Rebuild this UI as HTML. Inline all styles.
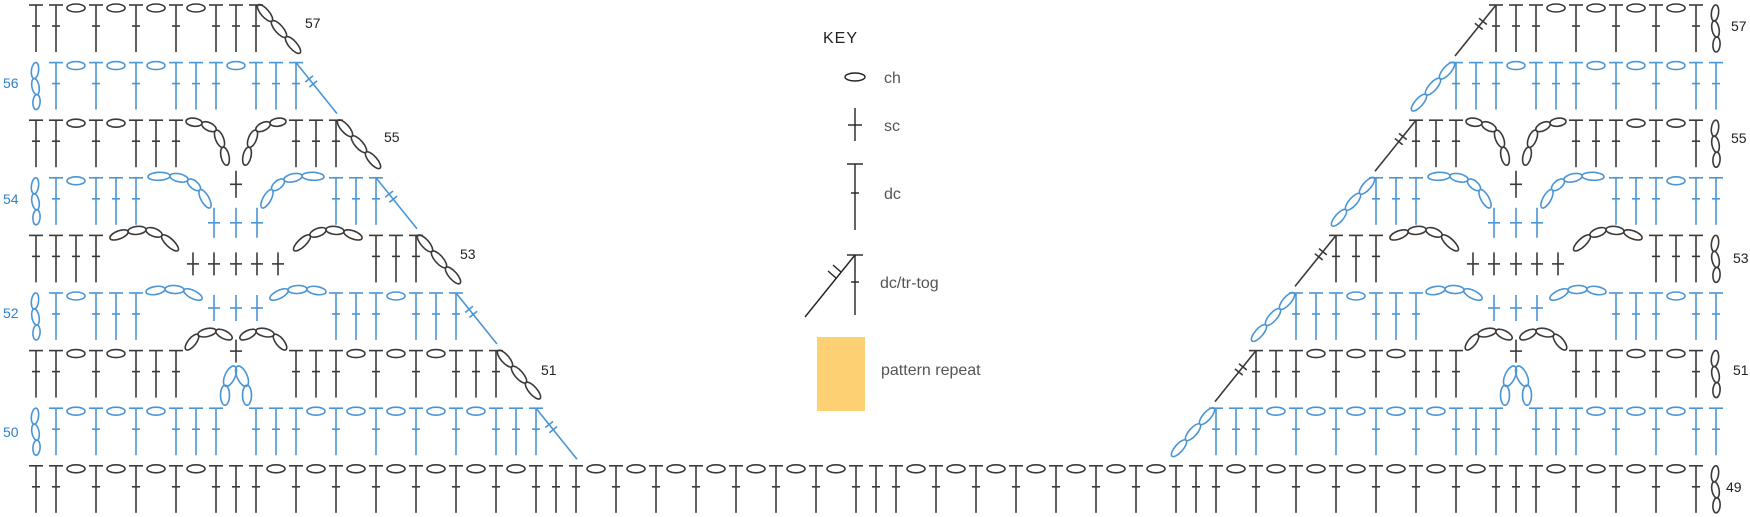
<!DOCTYPE html>
<html><head><meta charset="utf-8">
<style>
html,body{margin:0;padding:0;background:#fff;}
svg{display:block;}
text{font-family:"Liberation Sans",sans-serif;}
</style></head>
<body>
<svg id="s" xmlns="http://www.w3.org/2000/svg" width="1750" height="517" viewBox="0 0 1750 517">
<rect width="1750" height="517" fill="#fff"/>
<g id="g" fill="none" stroke-width="1.6"></g>
<!-- labels -->
<g font-size="14" fill="#222">
<text x="305" y="28">57</text>
<text x="384" y="142">55</text>
<text x="460" y="259">53</text>
<text x="541" y="375">51</text>
<text x="1731" y="31">57</text>
<text x="1731" y="143">55</text>
<text x="1733" y="263">53</text>
<text x="1733" y="375">51</text>
<text x="1726" y="492">49</text>
</g>
<g font-size="14" fill="#2f80c6">
<text x="3" y="88">56</text>
<text x="3" y="204">54</text>
<text x="3" y="318">52</text>
<text x="3" y="437">50</text>
</g>
<!-- key -->
<g fill="#222"><text x="823" y="43" font-size="16" letter-spacing="1">KEY</text></g>
<g font-size="16" fill="#555">
<text x="884" y="83">ch</text>
<text x="884" y="131">sc</text>
<text x="884" y="199">dc</text>
<text x="880" y="288">dc/tr-tog</text>
<text x="881" y="375">pattern repeat</text>
</g>
<g stroke="#222" stroke-width="1.4" fill="none">
<ellipse cx="855" cy="77" rx="10" ry="4"/>
<line x1="855" y1="108" x2="855" y2="141"/><line x1="848" y1="125" x2="862" y2="125"/>
<line x1="855" y1="164" x2="855" y2="230"/><line x1="847" y1="164" x2="863" y2="164"/><line x1="851" y1="193" x2="859" y2="193"/>
<line x1="855" y1="255" x2="855" y2="315"/><line x1="847" y1="255" x2="863" y2="255"/><line x1="851" y1="282" x2="859" y2="282"/>
<line x1="855" y1="255" x2="805" y2="317"/>
<line x1="828" y1="271" x2="836" y2="278"/><line x1="833" y1="265" x2="841" y2="272"/>
</g>
<rect x="817" y="337" width="48" height="74" fill="#fdd073"/>
</svg>
<script>
(function(){
var g=document.getElementById('g');var NS='http://www.w3.org/2000/svg';
var BK='#3a3a3a',BL='#4a95d6';
function el(n,a){var e=document.createElementNS(NS,n);for(var k in a)e.setAttribute(k,a[k]);g.appendChild(e);return e;}
function ln(x1,y1,x2,y2,c){el('line',{x1:x1,y1:y1,x2:x2,y2:y2,stroke:c});}
function X(i){return 36+20*i;}
function T(r){return 5+(57-r)*57.6;}
function dc(x,t,c){ln(x,t,x,t+47,c);ln(x-7,t,x+7,t,c);ln(x-4,t+21,x+4,t+21,c);}
function ch(x,t,c){el('ellipse',{cx:x,cy:t+3,rx:9,ry:4,stroke:c});}
function sc(x,y1,y2,c){ln(x,y1,x,y2,c);var m=(y1+y2)/2;ln(x-6,m,x+6,m,c);}
function chain(pts,c,ry){ry=ry||4;for(var k=0;k<pts.length-1;k++){var a=pts[k],b=pts[k+1];var cx=(a[0]+b[0])/2,cy=(a[1]+b[1])/2;var dx=b[0]-a[0],dy=b[1]-a[1];var L=Math.sqrt(dx*dx+dy*dy)/2;var ang=Math.atan2(dy,dx)*180/Math.PI;el('ellipse',{cx:cx,cy:cy,rx:L,ry:ry,stroke:c,transform:'rotate('+ang+' '+cx+' '+cy+')'});}}
function vchain(x,t,c){chain([[x,t],[x-2,t+16],[x+1,t+32],[x,t+47]],c,3.6);}
function tog(x,t,dir,c){var x2=x+dir*41,y2=t+51;ln(x,t,x2,y2,c);[0.32,0.42].forEach(function(f){var px=x+(x2-x)*f,py=t+(y2-t)*f;var nx=51,ny=-dir*41;var n=Math.sqrt(nx*nx+ny*ny);nx=nx/n*5;ny=ny/n*5;ln(px-nx,py-ny,px+nx,py+ny,c);});}
function dchain(x,t,dir,c){var x0=x+dir*2,x3=x+dir*44;chain([[x0,t],[x0+(x3-x0)/3,t+16],[x0+2*(x3-x0)/3,t+32],[x3,t+48]],c);}
function row(r,start,s,c){var t=T(r);for(var k=0;k<s.length;k++){var i=start+k,x=X(i),ch_=s[k];if(ch_=='T')dc(x,t,c);else if(ch_=='o')ch(x,t,c);else if(ch_=='v')vchain(x,t,c);}}
function col(r){return r%2?BK:BL;}
// row 49
var s49='';for(var i=0;i<=83;i++){if(i<2){s49+='T';continue;}var rr=((i-9)%16+16)%16;s49+=(rr<=2?'T':(rr%2?'o':'T'));}s49+='v';
row(49,0,s49,BK);
var L={57:'TToToToToTTT',56:'vToToToTTToTTT',55:'TToToTTT.....TTT',54:'vToTTT.........TTT',53:'TTTT.............TTT',52:'vToTTT.........TTToTTT',51:'TToToTTT.....TTToToToTTT',50:'vToToToTTT.TTToToToToToTTT'};
var R={57:[73,'TTToToToToTv'],56:[71,'TTToTTToToToTT'],55:[69,'TTT.....TTToToTv'],54:[67,'TTT.........TTToTT'],53:[65,'TTT.............TTTv'],52:[63,'TTToTTT.........TTToTT'],51:[61,'TTToToToTTT.....TTToToTv'],50:[59,'TTToToToToToTTT.TTToToToTT']};
for(var r=50;r<=57;r++){var c=col(r),t=T(r);row(r,0,L[r],c);var last=L[r].length-1;
 if(r%2)dchain(X(last),t,1,c);else tog(X(last),t,1,c);
 row(r,R[r][0],R[r][1],c);var f=R[r][0];
 if(r%2)tog(X(f),t,-1,c);else dchain(X(f),t,-1,c);}
function mir(p){return p.map(function(q){return [-q[0],q[1]];});}
function shift(p,cx,t){return p.map(function(q){return [cx+q[0],t+q[1]];});}
[10,74].forEach(function(ci){var cx=X(ci);
 // row 55 arches
 var t=T(55),p=[[-50,1],[-34,3],[-20,10],[-13,27],[-9,45]];chain(shift(p,cx,t),BK);chain(shift(mir(p),cx,t),BK);
 // row 54
 t=T(54);p=[[-88,-1],[-66,-2],[-48,2],[-36,12],[-26,30]];chain(shift(p,cx,t),BL);chain(shift(mir(p),cx,t),BL);
 sc(cx,t-7,t+20,BK);[-22,0,21].forEach(function(d){sc(cx+d,t+30,t+60,BL);});
 // row 53
 t=T(53);p=[[-126,3],[-108,-4],[-90,-6],[-74,0],[-58,15]];chain(shift(p,cx,t),BK);chain(shift(mir(p),cx,t),BK);
 [-43,-22,0,21,42].forEach(function(d){sc(cx+d,t+17,t+40,BK);});
 // row 52
 t=T(52);p=[[-90,-1],[-71,-4],[-52,-3],[-34,6]];chain(shift(p,cx,t),BL);chain(shift(mir(p),cx,t),BL);
 [-22,0,21].forEach(function(d){sc(cx+d,t+2,t+28,BL);});
 // row 51
 t=T(51);p=[[-50,-1],[-38,-16],[-20,-20],[-4,-12]];chain(shift(p,cx,t),BK);chain(shift(mir(p),cx,t),BK);
 sc(cx,t-11,t+12,BK);
 // row 50 loops
 t=T(50);
 el('ellipse',{cx:cx-6,cy:t-32,rx:5,ry:11,stroke:BL,transform:'rotate(25 '+(cx-6)+' '+(t-32)+')'});
 el('ellipse',{cx:cx+6,cy:t-32,rx:5,ry:11,stroke:BL,transform:'rotate(-25 '+(cx+6)+' '+(t-32)+')'});
 el('ellipse',{cx:cx-11,cy:t-13,rx:4.5,ry:10,stroke:BL});
 el('ellipse',{cx:cx+11,cy:t-13,rx:4.5,ry:10,stroke:BL});
});
})();
</script>
</body></html>
